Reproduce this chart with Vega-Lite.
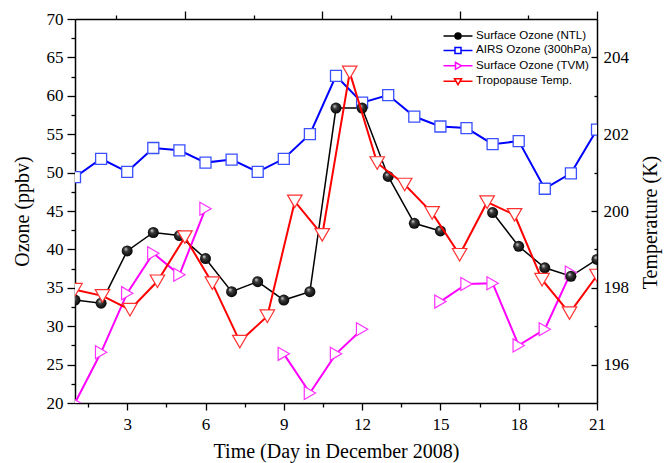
{
  "$schema": "https://vega.github.io/schema/vega-lite/v6.json",
  "width": 522,
  "height": 384,
  "autosize": "none",
  "padding": {"left": 75, "top": 19, "right": 68, "bottom": 60},
  "background": "white",
  "config": {
    "view": {"stroke": null},
    "axis": {
      "grid": false,
      "domainColor": "black",
      "domainWidth": 1.5,
      "tickColor": "black",
      "tickWidth": 1.3,
      "labelFont": "Liberation Serif",
      "labelFontSize": 17,
      "labelColor": "black",
      "titleFont": "Liberation Serif",
      "titleFontSize": 20,
      "titleFontWeight": "normal",
      "titleColor": "black"
    }
  },
  "datasets": {
    "ozone": [
      {"day": 1, "series": "Surface Ozone (NTL)", "value": 33.4, "seg": "a"},
      {"day": 2, "series": "Surface Ozone (NTL)", "value": 33.0, "seg": "a"},
      {"day": 3, "series": "Surface Ozone (NTL)", "value": 39.8, "seg": "a"},
      {"day": 4, "series": "Surface Ozone (NTL)", "value": 42.2, "seg": "a"},
      {"day": 5, "series": "Surface Ozone (NTL)", "value": 41.8, "seg": "a"},
      {"day": 6, "series": "Surface Ozone (NTL)", "value": 38.8, "seg": "a"},
      {"day": 7, "series": "Surface Ozone (NTL)", "value": 34.5, "seg": "a"},
      {"day": 8, "series": "Surface Ozone (NTL)", "value": 35.8, "seg": "a"},
      {"day": 9, "series": "Surface Ozone (NTL)", "value": 33.4, "seg": "a"},
      {"day": 10, "series": "Surface Ozone (NTL)", "value": 34.5, "seg": "a"},
      {"day": 11, "series": "Surface Ozone (NTL)", "value": 58.4, "seg": "a"},
      {"day": 12, "series": "Surface Ozone (NTL)", "value": 58.4, "seg": "a"},
      {"day": 13, "series": "Surface Ozone (NTL)", "value": 49.5, "seg": "a"},
      {"day": 14, "series": "Surface Ozone (NTL)", "value": 43.4, "seg": "a"},
      {"day": 15, "series": "Surface Ozone (NTL)", "value": 42.4, "seg": "a"},
      {"day": 17, "series": "Surface Ozone (NTL)", "value": 44.8, "seg": "b"},
      {"day": 18, "series": "Surface Ozone (NTL)", "value": 40.4, "seg": "b"},
      {"day": 19, "series": "Surface Ozone (NTL)", "value": 37.6, "seg": "b"},
      {"day": 20, "series": "Surface Ozone (NTL)", "value": 36.5, "seg": "b"},
      {"day": 21, "series": "Surface Ozone (NTL)", "value": 38.7, "seg": "b"},
      {"day": 1, "series": "AIRS Ozone (300hPa)", "value": 49.4, "seg": "a"},
      {"day": 2, "series": "AIRS Ozone (300hPa)", "value": 51.8, "seg": "a"},
      {"day": 3, "series": "AIRS Ozone (300hPa)", "value": 50.1, "seg": "a"},
      {"day": 4, "series": "AIRS Ozone (300hPa)", "value": 53.2, "seg": "a"},
      {"day": 5, "series": "AIRS Ozone (300hPa)", "value": 52.9, "seg": "a"},
      {"day": 6, "series": "AIRS Ozone (300hPa)", "value": 51.3, "seg": "a"},
      {"day": 7, "series": "AIRS Ozone (300hPa)", "value": 51.7, "seg": "a"},
      {"day": 8, "series": "AIRS Ozone (300hPa)", "value": 50.1, "seg": "a"},
      {"day": 9, "series": "AIRS Ozone (300hPa)", "value": 51.8, "seg": "a"},
      {"day": 10, "series": "AIRS Ozone (300hPa)", "value": 55.0, "seg": "a"},
      {"day": 11, "series": "AIRS Ozone (300hPa)", "value": 62.6, "seg": "a"},
      {"day": 12, "series": "AIRS Ozone (300hPa)", "value": 59.1, "seg": "a"},
      {"day": 13, "series": "AIRS Ozone (300hPa)", "value": 60.1, "seg": "a"},
      {"day": 14, "series": "AIRS Ozone (300hPa)", "value": 57.3, "seg": "a"},
      {"day": 15, "series": "AIRS Ozone (300hPa)", "value": 56.0, "seg": "a"},
      {"day": 16, "series": "AIRS Ozone (300hPa)", "value": 55.8, "seg": "a"},
      {"day": 17, "series": "AIRS Ozone (300hPa)", "value": 53.7, "seg": "a"},
      {"day": 18, "series": "AIRS Ozone (300hPa)", "value": 54.1, "seg": "a"},
      {"day": 19, "series": "AIRS Ozone (300hPa)", "value": 47.9, "seg": "a"},
      {"day": 20, "series": "AIRS Ozone (300hPa)", "value": 49.9, "seg": "a"},
      {"day": 21, "series": "AIRS Ozone (300hPa)", "value": 55.6, "seg": "a"},
      {"day": 1, "series": "Surface Ozone (TVM)", "value": 20.0, "seg": "a"},
      {"day": 2, "series": "Surface Ozone (TVM)", "value": 26.6, "seg": "a"},
      {"day": 3, "series": "Surface Ozone (TVM)", "value": 34.3, "seg": "a"},
      {"day": 4, "series": "Surface Ozone (TVM)", "value": 39.5, "seg": "a"},
      {"day": 5, "series": "Surface Ozone (TVM)", "value": 36.7, "seg": "a"},
      {"day": 6, "series": "Surface Ozone (TVM)", "value": 45.3, "seg": "a"},
      {"day": 9, "series": "Surface Ozone (TVM)", "value": 26.4, "seg": "b"},
      {"day": 10, "series": "Surface Ozone (TVM)", "value": 21.3, "seg": "b"},
      {"day": 11, "series": "Surface Ozone (TVM)", "value": 26.4, "seg": "b"},
      {"day": 12, "series": "Surface Ozone (TVM)", "value": 29.6, "seg": "b"},
      {"day": 15, "series": "Surface Ozone (TVM)", "value": 33.2, "seg": "c"},
      {"day": 16, "series": "Surface Ozone (TVM)", "value": 35.5, "seg": "c"},
      {"day": 17, "series": "Surface Ozone (TVM)", "value": 35.6, "seg": "c"},
      {"day": 18, "series": "Surface Ozone (TVM)", "value": 27.5, "seg": "c"},
      {"day": 19, "series": "Surface Ozone (TVM)", "value": 29.6, "seg": "c"},
      {"day": 20, "series": "Surface Ozone (TVM)", "value": 37.0, "seg": "c"}
    ],
    "temp": [
      {"idx": 1, "temp": 197.95},
      {"idx": 2, "temp": 197.79},
      {"idx": 3, "temp": 197.43},
      {"idx": 4, "temp": 198.17},
      {"idx": 5, "temp": 199.32},
      {"idx": 6, "temp": 198.12},
      {"idx": 7, "temp": 196.6},
      {"idx": 8, "temp": 197.26},
      {"idx": 9, "temp": 200.25},
      {"idx": 10, "temp": 199.38},
      {"idx": 11, "temp": 203.61},
      {"idx": 12, "temp": 201.25},
      {"idx": 13, "temp": 200.69},
      {"idx": 14, "temp": 199.95},
      {"idx": 15, "temp": 198.86},
      {"idx": 16, "temp": 200.23},
      {"idx": 17, "temp": 199.9},
      {"idx": 18, "temp": 198.21},
      {"idx": 19, "temp": 197.34},
      {"idx": 20, "temp": 198.32}
    ]
  },
  "layer": [
    {
      "data": {"name": "ozone"},
      "encoding": {
        "x": {
          "field": "day",
          "type": "quantitative",
          "scale": {"domain": [1, 21], "nice": false, "zero": false},
          "axis": {
            "orient": "bottom",
            "title": "Time (Day in December 2008)",
            "values": [1.5, 3, 4.5, 6, 7.5, 9, 10.5, 12, 13.5, 15, 16.5, 18, 19.5, 21],
            "labelExpr": "datum.value % 3 === 0 ? datum.label : ''",
            "tickSize": {"condition": {"test": "datum.value % 3 === 0", "value": 7}, "value": 4},
            "labelPadding": 6,
            "titlePadding": 9,
            "labelFlush": false,
            "labelOverlap": false
          }
        },
        "y": {
          "field": "value",
          "type": "quantitative",
          "scale": {"domain": [20, 70], "nice": false, "zero": false},
          "axis": {
            "orient": "left",
            "title": "Ozone (ppbv)",
            "values": [20, 22.5, 25, 27.5, 30, 32.5, 35, 37.5, 40, 42.5, 45, 47.5, 50, 52.5, 55, 57.5, 60, 62.5, 65, 67.5, 70],
            "labelExpr": "datum.value % 5 === 0 ? datum.label : ''",
            "tickSize": {"condition": {"test": "datum.value % 5 === 0", "value": 8}, "value": 4},
            "labelPadding": 4,
            "titlePadding": 14,
            "labelFlush": false,
            "labelOverlap": false
          }
        }
      },
      "layer": [
        {
          "mark": {"type": "line", "clip": true},
          "encoding": {
            "color": {
              "field": "series",
              "type": "nominal",
              "scale": {
                "domain": ["Surface Ozone (NTL)", "AIRS Ozone (300hPa)", "Surface Ozone (TVM)", "Tropopause Temp."],
                "range": ["#000000", "#0000ff", "#ff00ff", "#ff0000"]
              },
              "legend": {
                "title": null,
                "orient": "none",
                "legendX": 377,
                "legendY": 11,
                "padding": 0,
                "labelFont": "Liberation Sans",
                "labelFontSize": 11.6,
                "labelColor": "black",
                "symbolSize": 100,
                "labelOffset": 12,
                "rowPadding": 2.4,
                "encode": {
                  "symbols": {
                    "update": {
                      "shape": {"signal": "datum.value === 'Surface Ozone (NTL)' ? 'M-2.9,0H2.9M0.6,0A0.6,0.6 0 1,1 -0.6,0A0.6,0.6 0 1,1 0.6,0Z' : datum.value === 'AIRS Ozone (300hPa)' ? 'M-2.9,0H-0.6M0.6,0H2.9M-0.6,-0.6H0.6V0.6H-0.6Z' : datum.value === 'Surface Ozone (TVM)' ? 'M-2.9,0H-0.5M0.7,0H2.9M-0.5,-0.7L0.7,0L-0.5,0.7Z' : 'M-2.9,0H-0.41M0.41,0H2.9M-0.7,-0.5H0.7L0,0.7Z'"},
                      "fill": {"signal": "datum.value === 'Surface Ozone (NTL)' ? 'black' : 'white'"},
                      "stroke": {"scale": "color", "field": "value"},
                      "strokeWidth": {"value": 1.5},
                      "opacity": {"value": 1},
                      "size": {"value": 100}
                    }
                  }
                }
              }
            },
            "detail": {"field": "seg"},
            "strokeWidth": {"condition": {"test": "datum.series === 'Surface Ozone (NTL)'", "value": 1.5}, "value": 2}
          }
        },
        {
          "transform": [{"filter": "datum.series === 'AIRS Ozone (300hPa)'"}],
          "mark": {"type": "point", "shape": "square", "size": 121, "filled": true, "fill": "white", "stroke": "#3a50ff", "strokeWidth": 1.3, "opacity": 1, "clip": true}
        },
        {
          "transform": [{"filter": "datum.series === 'Surface Ozone (TVM)'"}],
          "mark": {"type": "point", "shape": "triangle-right", "size": 170, "filled": true, "fill": "white", "stroke": "#ff30ff", "strokeWidth": 1.2, "opacity": 1, "clip": true}
        },
        {
          "transform": [{"filter": "datum.series === 'Surface Ozone (NTL)'"}],
          "mark": {
            "type": "point",
            "shape": "circle",
            "size": 121,
            "filled": true,
            "opacity": 1,
            "strokeWidth": 0,
            "clip": true,
            "fill": {
              "gradient": "radial",
              "x1": 0.35, "y1": 0.3, "r1": 0,
              "x2": 0.5, "y2": 0.5, "r2": 0.55,
              "stops": [
                {"offset": 0, "color": "#e8e8e8"},
                {"offset": 0.35, "color": "#3a3a3a"},
                {"offset": 1, "color": "#000000"}
              ]
            }
          }
        }
      ]
    },
    {
      "data": {"name": "temp"},
      "encoding": {
        "x": {
          "field": "idx",
          "type": "quantitative",
          "scale": {"domain": [1, 20], "nice": false, "zero": false},
          "axis": {
            "orient": "top",
            "title": null,
            "labels": false,
            "values": [2.5, 5, 7.5, 10, 12.5, 15, 17.5, 20],
            "tickSize": {"condition": {"test": "datum.value % 5 === 0", "value": 8}, "value": 4}
          }
        },
        "y": {
          "field": "temp",
          "type": "quantitative",
          "scale": {"domain": [195, 205], "nice": false, "zero": false},
          "axis": {
            "orient": "right",
            "title": "Temperature (K)",
            "titleAngle": 270,
            "titleBaseline": "top",
            "titleY": 203,
            "values": [196, 197, 198, 199, 200, 201, 202, 203, 204],
            "labelExpr": "datum.value % 2 === 0 ? datum.label : ''",
            "tickSize": {"condition": {"test": "datum.value % 2 === 0", "value": -6}, "value": -3},
            "labelPadding": 12,
            "titlePadding": 12,
            "labelFlush": false,
            "labelOverlap": false
          }
        }
      },
      "layer": [
        {
          "mark": {"type": "line", "color": "#ff0000", "strokeWidth": 2, "clip": true}
        },
        {
          "mark": {"type": "point", "shape": "triangle-down", "size": 210, "filled": true, "fill": "white", "stroke": "#ff3030", "strokeWidth": 1.2, "opacity": 1, "clip": true}
        }
      ]
    }
  ],
  "resolve": {"scale": {"x": "independent", "y": "independent"}}
}
